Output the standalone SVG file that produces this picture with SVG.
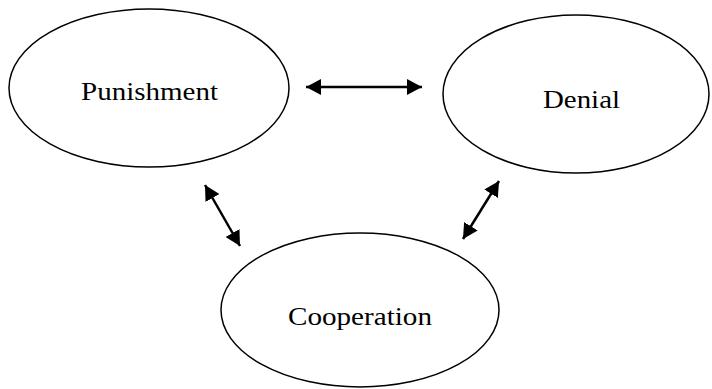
<svg xmlns="http://www.w3.org/2000/svg" width="712" height="389" viewBox="0 0 712 389">
<style>
.node{fill:#fff;stroke:#000;stroke-width:1.5}
.lbl{font-family:"Liberation Serif","Times New Roman",serif;font-size:26px;fill:#000;text-anchor:middle}
.con{stroke:#000;stroke-width:2.5;fill:none;marker-start:url(#ah);marker-end:url(#ah)}
</style>
<defs>
<marker id="ah" markerUnits="userSpaceOnUse" viewBox="0 0 15 16" refX="15" refY="8" markerWidth="15" markerHeight="16" orient="auto-start-reverse">
<path d="M0,0 L15,8 L0,16 z" fill="#000"/>
</marker>
</defs>
<g id="punishment">
<ellipse class="node" cx="149" cy="88" rx="140" ry="79"/>
<text class="lbl" x="149.5" y="100" textLength="137" lengthAdjust="spacingAndGlyphs">Punishment</text>
</g>
<g id="denial">
<ellipse class="node" cx="576" cy="94" rx="133" ry="79"/>
<text class="lbl" x="581.5" y="108" textLength="77" lengthAdjust="spacingAndGlyphs">Denial</text>
</g>
<g id="cooperation">
<ellipse class="node" cx="360" cy="310" rx="139" ry="77"/>
<text class="lbl" x="360" y="325" textLength="144" lengthAdjust="spacingAndGlyphs">Cooperation</text>
</g>
<g id="connectors">
<line class="con" x1="306" y1="87" x2="422" y2="87"/>
<line class="con" x1="205" y1="185" x2="240" y2="246"/>
<line class="con" x1="499" y1="181" x2="463" y2="239"/>
</g>
</svg>
